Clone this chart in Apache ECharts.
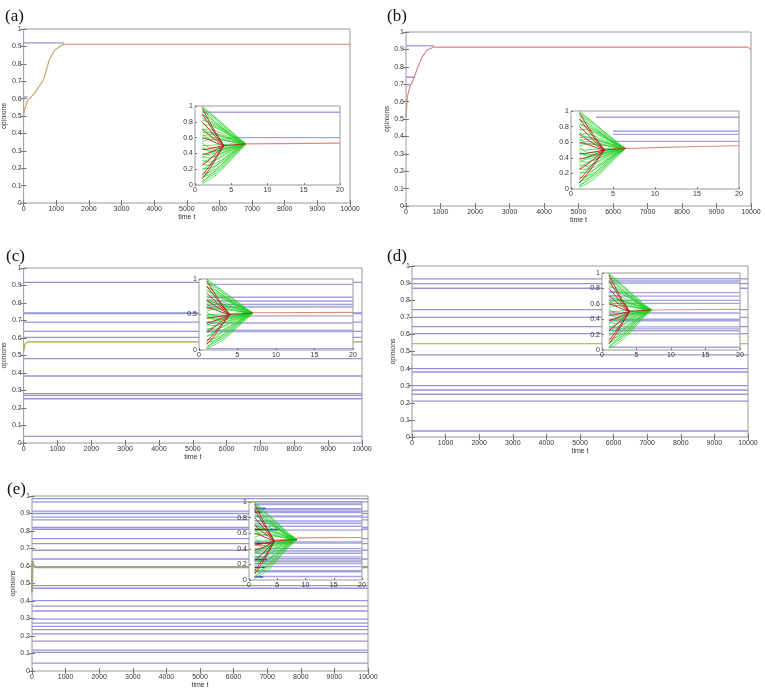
<!DOCTYPE html>
<html><head><meta charset="utf-8">
<script src="https://cdn.jsdelivr.net/npm/echarts@6/dist/echarts.min.js"></script>
<style>html,body{margin:0;padding:0;background:#fff}#c{width:765px;height:694px}</style>
</head><body><div id="c"></div>
<script>
// ---------------- DATA ----------------
// Inset fan trajectories (opinions vs time step), shared shape across panels
const greenFan = [
 [1.00, 0.92, 0.84, 0.76, 0.68, 0.60, 0.52],
 [0.99, 0.86, 0.78, 0.71, 0.64, 0.58, 0.52],
 [0.97, 0.91, 0.83, 0.75, 0.67, 0.59, 0.52],
 [0.93, 0.89, 0.81, 0.73, 0.66, 0.58, 0.52],
 [0.90, 0.82, 0.76, 0.70, 0.63, 0.57, 0.52],
 [0.88, 0.85, 0.78, 0.71, 0.64, 0.57, 0.52],
 [0.85, 0.78, 0.73, 0.68, 0.62, 0.56, 0.52],
 [0.82, 0.80, 0.75, 0.69, 0.62, 0.56, 0.52],
 [0.76, 0.76, 0.72, 0.67, 0.61, 0.56, 0.52],
 [0.72, 0.66, 0.64, 0.61, 0.58, 0.55, 0.52],
 [0.70, 0.71, 0.68, 0.64, 0.59, 0.55, 0.52],
 [0.66, 0.67, 0.65, 0.62, 0.58, 0.54, 0.52],
 [0.64, 0.58, 0.57, 0.56, 0.55, 0.53, 0.52],
 [0.62, 0.64, 0.63, 0.60, 0.57, 0.54, 0.52],
 [0.58, 0.61, 0.60, 0.58, 0.55, 0.53, 0.52],
 [0.55, 0.58, 0.58, 0.57, 0.55, 0.53, 0.52],
 [0.53, 0.47, 0.47, 0.49, 0.50, 0.51, 0.52],
 [0.50, 0.50, 0.51, 0.51, 0.52, 0.52, 0.52],
 [0.48, 0.42, 0.43, 0.45, 0.48, 0.50, 0.52],
 [0.45, 0.44, 0.45, 0.47, 0.49, 0.51, 0.52],
 [0.40, 0.38, 0.41, 0.44, 0.47, 0.50, 0.52],
 [0.36, 0.34, 0.37, 0.41, 0.45, 0.49, 0.52],
 [0.34, 0.40, 0.43, 0.46, 0.48, 0.50, 0.52],
 [0.31, 0.29, 0.32, 0.37, 0.43, 0.48, 0.52],
 [0.28, 0.33, 0.38, 0.42, 0.46, 0.49, 0.52],
 [0.26, 0.25, 0.28, 0.34, 0.41, 0.47, 0.52],
 [0.21, 0.21, 0.25, 0.31, 0.39, 0.46, 0.52],
 [0.18, 0.26, 0.33, 0.39, 0.44, 0.48, 0.52],
 [0.15, 0.16, 0.21, 0.28, 0.37, 0.45, 0.52],
 [0.10, 0.13, 0.18, 0.26, 0.35, 0.44, 0.52],
 [0.08, 0.17, 0.25, 0.33, 0.40, 0.47, 0.52],
 [0.05, 0.10, 0.16, 0.24, 0.34, 0.43, 0.52],
 [0.03, 0.12, 0.20, 0.29, 0.38, 0.46, 0.52],
 [0.02, 0.07, 0.13, 0.22, 0.32, 0.42, 0.52]
];
const redFan = [
 [0.97, 0.80, 0.64, 0.50],
 [0.90, 0.76, 0.62, 0.50],
 [0.80, 0.70, 0.59, 0.50],
 [0.70, 0.63, 0.56, 0.50],
 [0.60, 0.57, 0.53, 0.50],
 [0.45, 0.46, 0.48, 0.50],
 [0.38, 0.41, 0.45, 0.50],
 [0.25, 0.32, 0.41, 0.50],
 [0.12, 0.24, 0.37, 0.50],
 [0.08, 0.20, 0.35, 0.50]
];
const redJoinV = [0.50, 0.51, 0.52];

// time steps of the fans per panel
const fanT_a = [1, 2, 3, 4, 5, 6, 7];
const fanT_b = [1, 1.9, 2.8, 3.7, 4.6, 5.5, 6.5];
const fanT_c = [1, 2, 3, 4, 5, 6, 7];
const fanT_d = [1, 2, 3, 4, 5, 6, 7.2];
const fanT_e = [1, 2.2, 3.4, 4.6, 5.8, 7, 8.5];
const redFanT_a = [1, 2, 3, 4];
const redFanT_e = [1, 2.2, 3.4, 4.5];
const redJoinT_a = [4, 5.5, 7];
const redJoinT_b = [3.7, 5, 6.5];
const redJoinT_e = [4.5, 6.5, 8.5];

// Inset consensus tails
const tailT_a = [7, 20], tailV_a = [0.52, 0.53];
const tailT_b = [6.5, 10, 15, 20], tailV_b = [0.52, 0.53, 0.545, 0.555];
const tailT_c = [7, 20], tailV_c = [0.525, 0.53];
const tailT_d = [7.2, 20], tailV_d = [0.52, 0.53];
const tailT_e = [8.5, 20], tailV_e = [0.54, 0.545];

// Inset blue (fixed agents) levels and start times
const insetBlue_a = [0.92, 0.60], insetBlueStart_a = [1, 4.5];
const insetBlue_b = [0.92, 0.74, 0.70, 0.61], insetBlueStart_b = [3, 5, 5, 4.6];
const insetBlue_c = [0.925, 0.742, 0.69, 0.64, 0.605, 0.48, 0.38, 0.28, 0.26, 0.02];
const insetBlue_d = [0.925, 0.897, 0.87, 0.745, 0.70, 0.645, 0.605, 0.48, 0.40, 0.38, 0.30, 0.275, 0.25, 0.21, 0.035];
const insetBlue_e = [0.985, 0.966, 0.914, 0.90, 0.879, 0.864, 0.82, 0.81, 0.756, 0.728, 0.69, 0.64, 0.488, 0.473, 0.402, 0.371, 0.343, 0.296, 0.274, 0.255, 0.236, 0.212, 0.171, 0.119, 0.106, 0.045];
const insetDark_e = [0.92, 0.87, 0.65, 0.47, 0.26, 0.16, 0.04], insetDarkEnd_e = [3, 2.2, 5.5, 4, 3.2, 3, 2.5];

// Main panels, time 0..10000
const mainBlue_a = [0.92, 0.61], mainBlueEnd_a = [1240, 120];
const curveT_a = [0, 20, 120, 330, 580, 630, 780, 940, 1140, 1240];
const curveV_a = [0.50, 0.53, 0.59, 0.63, 0.70, 0.72, 0.82, 0.876, 0.905, 0.912];
const redT_mainA = [1240, 10000], redV_mainA = [0.912, 0.912];

const mainBlue_b = [0.92, 0.74, 0.696, 0.61], mainBlueEnd_b = [810, 260, 120, 30];
const curveT_b = [0, 40, 120, 210, 310, 450, 600, 790];
const curveV_b = [0.51, 0.63, 0.69, 0.725, 0.78, 0.85, 0.894, 0.913];
const redT_mainB = [790, 9900, 10000], redV_mainB = [0.913, 0.913, 0.90];

const mainBlue_c = [0.918, 0.743, 0.739, 0.691, 0.638, 0.604, 0.482, 0.383, 0.282, 0.272, 0.253, 0.038];
const curveT_c = [0, 30, 80, 150, 10000], curveV_c = [0.52, 0.56, 0.574, 0.578, 0.578];

const mainBlue_d = [0.925, 0.897, 0.87, 0.745, 0.70, 0.645, 0.605, 0.48, 0.40, 0.38, 0.30, 0.275, 0.25, 0.21, 0.035];
const curveT_d = [0, 10000], curveV_d = [0.545, 0.545];

const mainBlue_e = [0.985, 0.966, 0.914, 0.90, 0.879, 0.864, 0.82, 0.81, 0.756, 0.728, 0.69, 0.64, 0.488, 0.473, 0.402, 0.371, 0.343, 0.296, 0.274, 0.255, 0.236, 0.212, 0.171, 0.119, 0.106, 0.045];
const curveT_e = [0, 10, 40, 100, 10000], curveV_e = [0.45, 0.63, 0.60, 0.594, 0.594];

const panelLabels = ['(a)', '(b)', '(c)', '(d)', '(e)'];

// ---------------- LAYOUT ----------------
const layout = [
 {main:{left:23, top:29, width:327, height:174}, inset:{left:195, top:106, width:145, height:79}, lab:{left:0, top:3}, yIv:0.2},
 {main:{left:406, top:32, width:345, height:174}, inset:{left:571, top:111, width:168, height:78}, lab:{left:382, top:3}, yIv:0.2},
 {main:{left:23, top:268, width:339, height:175}, inset:{left:199, top:279, width:154, height:71}, lab:{left:1, top:243}, yIv:0.5},
 {main:{left:412, top:266, width:336, height:171}, inset:{left:602, top:273, width:138, height:77}, lab:{left:382, top:243}, yIv:0.2},
 {main:{left:32, top:496, width:336, height:175}, inset:{left:249, top:502, width:113, height:78}, lab:{left:2, top:476}, yIv:0.2}
];

const panelData = [
 {mBlue:mainBlue_a, mBlueEnd:mainBlueEnd_a, curveT:curveT_a, curveV:curveV_a, curveColor:'#c4a060', mRedT:redT_mainA, mRedV:redV_mainA,
  iBlue:insetBlue_a, iBlueStart:insetBlueStart_a, fanT:fanT_a, fanRT:redFanT_a, joinT:redJoinT_a, tailT:tailT_a, tailV:tailV_a},
 {mBlue:mainBlue_b, mBlueEnd:mainBlueEnd_b, curveT:curveT_b, curveV:curveV_b, curveColor:'#d08080', mRedT:redT_mainB, mRedV:redV_mainB,
  iBlue:insetBlue_b, iBlueStart:insetBlueStart_b, fanT:fanT_b, fanRT:redFanT_a, joinT:redJoinT_b, tailT:tailT_b, tailV:tailV_b},
 {mBlue:mainBlue_c, curveT:curveT_c, curveV:curveV_c, curveColor:'#a8a040',
  iBlue:insetBlue_c, fanT:fanT_c, fanRT:redFanT_a, joinT:redJoinT_a, tailT:tailT_c, tailV:tailV_c},
 {mBlue:mainBlue_d, curveT:curveT_d, curveV:curveV_d, curveColor:'#9cae30',
  iBlue:insetBlue_d, fanT:fanT_d, fanRT:redFanT_a, joinT:redJoinT_a, tailT:tailT_d, tailV:tailV_d},
 {mBlue:mainBlue_e, curveT:curveT_e, curveV:curveV_e, curveColor:'#9ea47c', curveWidth:2.2,
  iBlue:insetBlue_e, fanT:fanT_e, fanRT:redFanT_e, joinT:redJoinT_e, tailT:tailT_e, tailV:tailV_e, iDark:insetDark_e, iDarkEnd:insetDarkEnd_e}
];

// ---------------- BUILD ----------------
const FONT = 'Liberation Sans';
const grids = [], xAxes = [], yAxes = [], series = [], titles = [];
const pts = (T, V) => T.map((t, i) => [t, V[i]]);
const plain = v => String(v);
function line(xi, yi, data, color, width, z, opacity) {
  series.push({type:'line', xAxisIndex:xi, yAxisIndex:yi, data, showSymbol:false, symbol:'none', silent:true,
    animation:false, z, lineStyle:{color, width, opacity: opacity == null ? 1 : opacity}});
}

layout.forEach((L, p) => {
  const D = panelData[p];
  const gi = grids.length;
  grids.push(Object.assign({show:true, borderColor:'#999', borderWidth:1, backgroundColor:'#fff', z:0, containLabel:false}, L.main));
  const xb = xAxes.length;
  xAxes.push({gridIndex:gi, type:'value', min:0, max:10000, interval:1000, position:'bottom',
    axisLine:{show:false}, axisTick:{inside:true, length:3, lineStyle:{color:'#777'}},
    axisLabel:{fontSize:7, color:'#333', margin:3, fontFamily:FONT, formatter:plain}, splitLine:{show:false},
    name:'time t', nameLocation:'middle', nameGap:11, nameTextStyle:{fontSize:7, color:'#333', fontFamily:FONT}});
  xAxes.push({gridIndex:gi, type:'value', min:0, max:10000, interval:1000, position:'top',
    axisLine:{show:false}, axisTick:{inside:true, length:3, lineStyle:{color:'#777'}}, axisLabel:{show:false}, splitLine:{show:false}});
  const yb = yAxes.length;
  yAxes.push({gridIndex:gi, type:'value', min:0, max:1, interval:0.1, position:'left',
    axisLine:{show:false}, axisTick:{inside:true, length:3, lineStyle:{color:'#777'}},
    axisLabel:{fontSize:7, color:'#333', margin:2, fontFamily:FONT}, splitLine:{show:false},
    name:'opinions', nameLocation:'middle', nameGap:13, nameTextStyle:{fontSize:7, color:'#333', fontFamily:FONT}});
  yAxes.push({gridIndex:gi, type:'value', min:0, max:1, interval:0.1, position:'right',
    axisLine:{show:false}, axisTick:{inside:true, length:3, lineStyle:{color:'#777'}}, axisLabel:{show:false}, splitLine:{show:false}});

  D.mBlue.forEach((v, i) => {
    const end = D.mBlueEnd ? D.mBlueEnd[i] : 10000;
    line(xb, yb, [[0, v], [end, v]], '#9595d8', 1.3, 2);
  });
  if (D.mRedT) line(xb, yb, pts(D.mRedT, D.mRedV), '#e07a7a', 1.1, 2);
  line(xb, yb, pts(D.curveT, D.curveV), D.curveColor, D.curveWidth || 1.1, 2);

  const ig = grids.length;
  grids.push(Object.assign({show:true, borderColor:'#999', borderWidth:1, backgroundColor:'#fff', z:3, containLabel:false}, L.inset));
  const ix = xAxes.length;
  xAxes.push({gridIndex:ig, type:'value', min:0, max:20, interval:5, z:6,
    axisLine:{show:false}, axisTick:{inside:true, length:2, lineStyle:{color:'#777'}},
    axisLabel:{fontSize:7, color:'#333', margin:2, fontFamily:FONT}, splitLine:{show:false}});
  const iy = yAxes.length;
  yAxes.push({gridIndex:ig, type:'value', min:0, max:1, interval:L.yIv, z:6,
    axisLine:{show:false}, axisTick:{inside:true, length:2, lineStyle:{color:'#777'}},
    axisLabel:{fontSize:7, color:'#333', margin:2, fontFamily:FONT}, splitLine:{show:false}});

  D.iBlue.forEach((v, i) => {
    const s = D.iBlueStart ? D.iBlueStart[i] : 1;
    line(ix, iy, [[s, v], [20, v]], '#a3a3e0', 1.4, 4);
  });
  if (D.iDark) D.iDark.forEach((v, i) => line(ix, iy, [[1, v], [D.iDarkEnd[i], v]], '#2a2ac0', 1.2, 5));
  greenFan.forEach(tr => line(ix, iy, pts(D.fanT, tr), '#22d022', 0.7, 5));
  redFan.forEach(tr => line(ix, iy, pts(D.fanRT, tr), '#b22020', 0.9, 5));
  line(ix, iy, pts(D.joinT, redJoinV), '#b22020', 0.9, 5);
  line(ix, iy, pts(D.tailT, D.tailV), '#e08a7a', 1.1, 5);

  titles.push({text:panelLabels[p], left:L.lab.left, top:L.lab.top,
    textStyle:{fontFamily:"'Liberation Serif', 'DejaVu Serif', serif", fontSize:17, fontWeight:'normal', color:'#111'}});
});

const chart = echarts.init(document.getElementById('c'), null, {renderer:'canvas'});
chart.setOption({animation:false, backgroundColor:'#fff', title:titles, grid:grids, xAxis:xAxes, yAxis:yAxes, series});
</script></body></html>
